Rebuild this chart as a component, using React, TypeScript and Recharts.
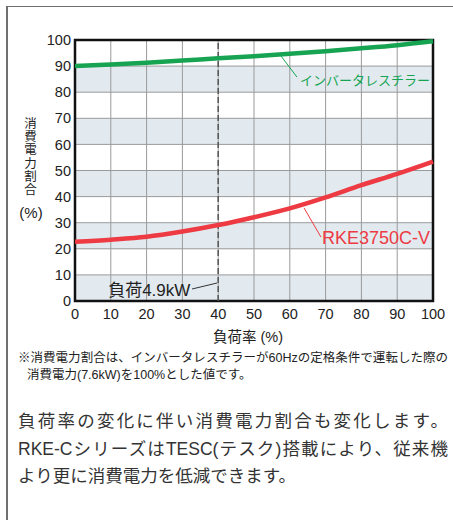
import React from 'react';
import {
  LineChart, Line, XAxis, YAxis, CartesianGrid,
  ReferenceArea, ReferenceLine, ReferenceDot
} from 'recharts';

const loadRate = [0, 10, 20, 30, 40, 50, 60, 70, 80, 90, 100];
const inverterless = [90, 90.6, 91.3, 92.1, 93.0, 93.8, 94.7, 95.7, 96.8, 98.0, 99.5];
const rke3750 = [22.7, 23.5, 24.6, 26.6, 29.1, 32.1, 35.5, 39.7, 44.4, 48.7, 53.4];
const yTicks = [0, 10, 20, 30, 40, 50, 60, 70, 80, 90, 100];

const FONT = "'Liberation Sans', Arial, 'Noto Sans CJK JP', sans-serif";
const JP = "'Noto Sans CJK JP', 'Liberation Sans', sans-serif";
const GREEN = '#16a453';
const RED = '#ee3a43';

const data = loadRate.map((x, i) => ({ x, green: inverterless[i], red: rke3750[i] }));

export default function App() {
  return (
    <div style={{ position: 'absolute', left: 0, top: 0, width: 453, height: 520, background: '#fff', overflow: 'hidden', fontFamily: FONT }}>
      {/* frame */}
      <div style={{ position: 'absolute', left: 6, top: 6, width: 460, height: 520, borderTop: '1px solid #6f6f6f', borderLeft: '2px solid #6f6f6f' }} />

      <div style={{ position: 'absolute', left: 0, top: 0 }}>
        <LineChart width={453} height={350} data={data} margin={{ top: 40, right: 20, bottom: 19, left: 35 }}>
          <CartesianGrid
            stroke="#9a9a9a"
            strokeWidth={1}
            horizontalFill={['#ffffff', '#e2eaf0']}
            fillOpacity={1}
          />
          <XAxis
            dataKey="x"
            type="number"
            domain={[0, 100]}
            ticks={loadRate}
            axisLine={false}
            tickLine={false}
            tickSize={4}
            tickMargin={4}
            height={30}
            tick={{ fontSize: 14.5, fill: '#222', fontFamily: FONT }}
          />
          <YAxis
            type="number"
            domain={[0, 100]}
            ticks={yTicks}
            axisLine={false}
            tickLine={false}
            tickSize={2}
            tickMargin={2}
            width={40}
            tick={{ fontSize: 14.5, fill: '#222', fontFamily: FONT }}
          />
          <ReferenceArea x1={0} x2={100} y1={0} y2={100} fill="none" stroke="#111" strokeWidth={2.5} />
          <ReferenceLine x={40} stroke="#555" strokeWidth={1.5} strokeDasharray="6 3" />

          <ReferenceLine segment={[{ x: 57.3, y: 94.3 }, { x: 62.0, y: 85.8 }]} stroke={GREEN} strokeWidth={1} />
          <ReferenceLine segment={[{ x: 64.0, y: 35.6 }, { x: 68.7, y: 24.5 }]} stroke={RED} strokeWidth={1} />
          <ReferenceLine segment={[{ x: 32.7, y: 4.6 }, { x: 39.7, y: 6.9 }]} stroke="#333" strokeWidth={1} />

          <ReferenceDot x={62.3} y={84.7} r={0} label={{ value: 'インバータレスチラー', position: 'right', offset: 2, fill: GREEN, fontSize: 13, fontFamily: JP }} />
          <ReferenceDot x={68.7} y={24.3} r={0} label={{ value: 'RKE3750C-V', position: 'right', offset: 1, fill: RED, fontSize: 18, fontFamily: FONT }} />
          <ReferenceDot x={32.5} y={4.4} r={0} label={{ value: '負荷4.9kW', position: 'left', offset: 1, fill: '#222', fontSize: 17, fontFamily: FONT }} />

          <Line type="monotone" dataKey="green" stroke={GREEN} strokeWidth={4.5} dot={false} isAnimationActive={false} />
          <Line type="monotone" dataKey="red" stroke={RED} strokeWidth={4.5} dot={false} isAnimationActive={false} />
        </LineChart>
      </div>

      {/* y axis title */}
      <div style={{ position: 'absolute', left: 22, top: 117, width: 16, fontFamily: JP, fontSize: 12.5, lineHeight: '16px', letterSpacing: 0.7, writingMode: 'vertical-rl', color: '#222' }}>
        消費電力割合
      </div>
      <div style={{ position: 'absolute', left: 16, top: 204, width: 30, fontSize: 15, lineHeight: '18px', color: '#222', textAlign: 'center' }}>(%)</div>

      {/* x axis title */}
      <div style={{ position: 'absolute', left: 148, top: 327, width: 200, fontSize: 14.5, lineHeight: '20px', color: '#222', textAlign: 'center' }}>負荷率 (%)</div>

      {/* footnote */}
      <div style={{ position: 'absolute', left: 18, top: 350, width: 430, fontFamily: FONT, fontSize: 12.5, lineHeight: '16.5px', color: '#222', whiteSpace: 'nowrap' }}>
        <div style={{ textAlignLast: 'justify', textAlign: 'justify' }}>※消費電力割合は、インバータレスチラーが60Hzの定格条件で運転した際の</div>
        <div style={{ paddingLeft: 9 }}>消費電力(7.6kW)を100%とした値です。</div>
      </div>

      {/* description */}
      <div style={{ position: 'absolute', left: 18, top: 408, width: 430, fontFamily: FONT, fontSize: 17.5, lineHeight: '27.5px', color: '#333', whiteSpace: 'nowrap' }}>
        <div style={{ textAlignLast: 'justify', textAlign: 'justify' }}>負荷率の変化に伴い消費電力割合も変化します。</div>
        <div style={{ textAlignLast: 'justify', textAlign: 'justify' }}>RKE-CシリーズはTESC(テスク)搭載により、従来機</div>
        <div>より更に消費電力を低減できます。</div>
      </div>
    </div>
  );
}
